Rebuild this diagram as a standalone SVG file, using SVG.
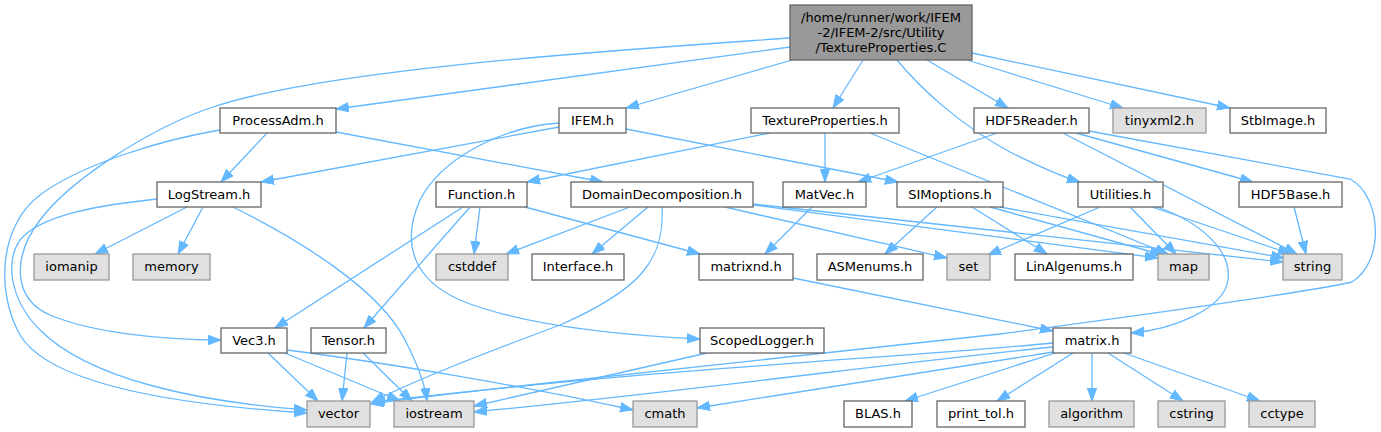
<svg xmlns="http://www.w3.org/2000/svg" width="1381" height="432" viewBox="0 0 1381 432">
<style>
.n rect{fill:#ffffff;stroke:#666666;stroke-width:1.3}
.g rect{fill:#e0e0e0;stroke:#999999;stroke-width:1.3}
.r rect{fill:#999999;stroke:#666666;stroke-width:1.3}
text{font-family:"DejaVu Sans","Liberation Sans",sans-serif;font-size:13px;fill:#000000;text-anchor:middle}
#edges path{fill:none;stroke:#63b8ff;stroke-width:1.3;marker-end:url(#arr)}
</style>
<defs>
<marker id="arr" markerWidth="14" markerHeight="11" refX="13" refY="5" orient="auto" markerUnits="userSpaceOnUse">
<path d="M0,0.3 L13,5 L0,9.7 z" fill="#63b8ff" stroke="#63b8ff" stroke-width="1"/>
</marker>
</defs>
<rect width="1381" height="432" fill="#ffffff"/>
<g id="edges">
<path d="M790,47 L336,109"/>
<path d="M790,38 C620,50 330,68 213,107 C150,128 70,180 40,220 C10,260 15,300 50,315 C90,332 160,340 221,340"/>
<path d="M220,130 C160,140 80,165 40,195 C0,225 -5,290 20,335 C50,385 180,405 307,413"/>
<path d="M157,199 C100,205 40,215 20,240 C5,262 10,300 40,330 C90,380 200,402 307,410"/>
<path d="M792,60 L626,108"/>
<path d="M863,60 L833,108"/>
<path d="M897,60 C920,88 960,125 1010,152 C1040,167 1060,176 1080,182"/>
<path d="M927,60 L1008,108"/>
<path d="M967,60 L1123,108"/>
<path d="M972,53 L1230,108"/>
<path d="M267,133 L221,182"/>
<path d="M336,132 L603,182"/>
<path d="M559,127 L261,182"/>
<path d="M626,129 L898,182"/>
<path d="M559,123 C500,127 440,160 420,200 C400,245 415,280 460,300 C520,325 620,335 700,339"/>
<path d="M770,133 L527,182"/>
<path d="M825,133 L825,182"/>
<path d="M870,133 L1168,254"/>
<path d="M997,133 L858,182"/>
<path d="M1076,133 L1253,182"/>
<path d="M1063,133 L1297,254"/>
<path d="M1089,131 L1350,179 C1382,196 1385,262 1352,282 C1300,294 1120,318 1000,334 L372,402"/>
<path d="M187,207 L95,254"/>
<path d="M203,207 L178,254"/>
<path d="M233,207 C300,240 380,290 405,340 C418,365 425,385 427,401"/>
<path d="M480,207 L474,254"/>
<path d="M463,207 L275,328"/>
<path d="M470,207 L364,328"/>
<path d="M525,207 L700,254"/>
<path d="M630,207 L506,254"/>
<path d="M648,207 L592,254"/>
<path d="M662,207 C665,260 640,290 560,325 C480,355 420,378 372,402"/>
<path d="M725,207 L947,258"/>
<path d="M753,205 L1158,258"/>
<path d="M753,204 L1283,262"/>
<path d="M812,207 L765,254"/>
<path d="M937,207 L885,254"/>
<path d="M972,207 L1047,254"/>
<path d="M990,207 L1163,255"/>
<path d="M1000,207 L1284,258"/>
<path d="M1100,207 L988,255"/>
<path d="M1130,207 L1176,254"/>
<path d="M1152,207 L1291,254"/>
<path d="M1157,207 C1200,222 1232,250 1228,280 C1224,310 1170,330 1131,333"/>
<path d="M1294,207 L1306,254"/>
<path d="M793,278 L1053,331"/>
<path d="M268,353 L318,401"/>
<path d="M285,353 L400,401"/>
<path d="M287,350 C380,362 520,385 633,410"/>
<path d="M347,353 L342,401"/>
<path d="M363,353 L412,401"/>
<path d="M707,353 L474,406"/>
<path d="M1053,343 C900,358 600,372 371,404"/>
<path d="M1053,347 C900,362 700,390 474,412"/>
<path d="M1053,352 L697,408"/>
<path d="M1055,353 L905,401"/>
<path d="M1073,353 L997,401"/>
<path d="M1092,353 L1092,401"/>
<path d="M1108,353 L1183,401"/>
<path d="M1124,353 L1260,401"/>
</g>
<g id="node-root" class="r"><rect x="790" y="5" width="182" height="55"/><text x="881" y="22">/home/runner/work/IFEM</text><text x="881" y="37">-2/IFEM-2/src/Utility</text><text x="881" y="52">/TextureProperties.C</text></g>
<g id="node-ProcessAdm" class="n"><rect x="220" y="108" width="116" height="25"/><text x="278" y="125">ProcessAdm.h</text></g>
<g id="node-IFEM" class="n"><rect x="559" y="108" width="67" height="25"/><text x="592.5" y="125">IFEM.h</text></g>
<g id="node-TextureProperties" class="n"><rect x="751" y="108" width="148" height="25"/><text x="825" y="125">TextureProperties.h</text></g>
<g id="node-HDF5Reader" class="n"><rect x="974" y="108" width="115" height="25"/><text x="1031.5" y="125">HDF5Reader.h</text></g>
<g id="node-tinyxml2" class="g"><rect x="1113" y="108" width="93" height="25"/><text x="1159.5" y="125">tinyxml2.h</text></g>
<g id="node-StbImage" class="n"><rect x="1230" y="108" width="96" height="25"/><text x="1278" y="125">StbImage.h</text></g>
<g id="node-LogStream" class="n"><rect x="157" y="182" width="104" height="25"/><text x="209" y="199">LogStream.h</text></g>
<g id="node-Function" class="n"><rect x="436" y="182" width="91" height="25"/><text x="481.5" y="199">Function.h</text></g>
<g id="node-DomainDecomposition" class="n"><rect x="571" y="182" width="182" height="25"/><text x="662" y="199">DomainDecomposition.h</text></g>
<g id="node-MatVec" class="n"><rect x="783" y="182" width="83" height="25"/><text x="824.5" y="199">MatVec.h</text></g>
<g id="node-SIMoptions" class="n"><rect x="897" y="182" width="106" height="25"/><text x="950" y="199">SIMoptions.h</text></g>
<g id="node-Utilities" class="n"><rect x="1078" y="182" width="85" height="25"/><text x="1120.5" y="199">Utilities.h</text></g>
<g id="node-HDF5Base" class="n"><rect x="1239" y="182" width="103" height="25"/><text x="1290.5" y="199">HDF5Base.h</text></g>
<g id="node-iomanip" class="g"><rect x="34" y="254" width="75" height="26"/><text x="71.5" y="271">iomanip</text></g>
<g id="node-memory" class="g"><rect x="133" y="254" width="77" height="26"/><text x="171.5" y="271">memory</text></g>
<g id="node-cstddef" class="g"><rect x="436" y="254" width="72" height="26"/><text x="472" y="271">cstddef</text></g>
<g id="node-Interface" class="n"><rect x="532" y="254" width="92" height="26"/><text x="578" y="271">Interface.h</text></g>
<g id="node-matrixnd" class="n"><rect x="699" y="254" width="94" height="26"/><text x="746" y="271">matrixnd.h</text></g>
<g id="node-ASMenums" class="n"><rect x="817" y="254" width="106" height="26"/><text x="870" y="271">ASMenums.h</text></g>
<g id="node-set" class="g"><rect x="947" y="254" width="43" height="26"/><text x="968.5" y="271">set</text></g>
<g id="node-LinAlgenums" class="n"><rect x="1015" y="254" width="118" height="26"/><text x="1074" y="271">LinAlgenums.h</text></g>
<g id="node-map" class="g"><rect x="1158" y="254" width="51" height="26"/><text x="1183.5" y="271">map</text></g>
<g id="node-string" class="g"><rect x="1283" y="254" width="59" height="26"/><text x="1312.5" y="271">string</text></g>
<g id="node-Vec3" class="n"><rect x="221" y="328" width="66" height="25"/><text x="254" y="345">Vec3.h</text></g>
<g id="node-Tensor" class="n"><rect x="311" y="328" width="75" height="25"/><text x="348.5" y="345">Tensor.h</text></g>
<g id="node-ScopedLogger" class="n"><rect x="700" y="328" width="124" height="25"/><text x="762" y="345">ScopedLogger.h</text></g>
<g id="node-matrix" class="n"><rect x="1053" y="328" width="78" height="25"/><text x="1092" y="345">matrix.h</text></g>
<g id="node-vector" class="g"><rect x="307" y="401" width="63" height="26"/><text x="338.5" y="418">vector</text></g>
<g id="node-iostream" class="g"><rect x="394" y="401" width="80" height="26"/><text x="434" y="418">iostream</text></g>
<g id="node-cmath" class="g"><rect x="633" y="401" width="64" height="26"/><text x="665" y="418">cmath</text></g>
<g id="node-BLAS" class="n"><rect x="844" y="401" width="68" height="26"/><text x="878" y="418">BLAS.h</text></g>
<g id="node-print_tol" class="n"><rect x="937" y="401" width="88" height="26"/><text x="981" y="418">print_tol.h</text></g>
<g id="node-algorithm" class="g"><rect x="1049" y="401" width="85" height="26"/><text x="1091.5" y="418">algorithm</text></g>
<g id="node-cstring" class="g"><rect x="1158" y="401" width="67" height="26"/><text x="1191.5" y="418">cstring</text></g>
<g id="node-cctype" class="g"><rect x="1249" y="401" width="66" height="26"/><text x="1282" y="418">cctype</text></g>
</svg>
